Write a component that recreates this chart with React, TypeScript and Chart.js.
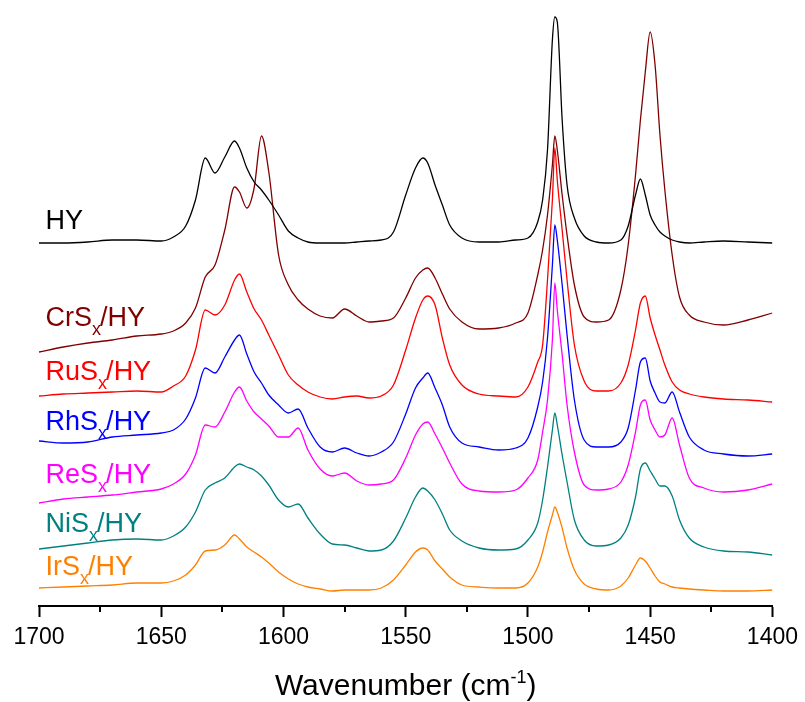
import React, { useEffect, useRef } from "react";
import { Chart, registerables } from "chart.js";

Chart.register(...registerables);

// Wavenumber grid (cm-1), shared by all spectra
const wavenumbers = [
  1700, 1690, 1680, 1670, 1660, 1650, 1645, 1640, 1636, 1632,
  1628, 1624, 1620, 1618, 1615, 1612, 1609, 1606, 1602, 1598,
  1594, 1590, 1585, 1580, 1575, 1570, 1565, 1560, 1555, 1550,
  1546, 1543, 1541, 1538, 1535, 1532, 1527, 1520, 1512, 1505,
  1500, 1496, 1494, 1492, 1490, 1489, 1488, 1486, 1484, 1481,
  1477, 1472, 1467, 1462, 1459, 1456, 1454, 1452, 1450, 1448,
  1446, 1444, 1441, 1438, 1434, 1428, 1420, 1410, 1400,
];

// Offset absorbance (a.u.) of each spectrum
const hy = [
  3.63, 3.63, 3.64, 3.66, 3.66, 3.65, 3.69, 3.80, 4.06, 4.48,
  4.33, 4.49, 4.65, 4.58, 4.38, 4.24, 4.16, 4.06, 3.91, 3.75,
  3.68, 3.64, 3.63, 3.63, 3.63, 3.64, 3.65, 3.66, 3.74, 4.11,
  4.38, 4.48, 4.43, 4.21, 4.01, 3.81, 3.68, 3.64, 3.64, 3.66,
  3.68, 3.84, 4.06, 4.56, 5.66, 5.89, 5.84, 4.86, 4.21, 3.88,
  3.70, 3.64, 3.63, 3.66, 3.80, 4.11, 4.27, 4.11, 3.91, 3.81,
  3.74, 3.70, 3.66, 3.64, 3.63, 3.64, 3.65, 3.64, 3.63,
];
const crsHy = [
  2.54, 2.59, 2.63, 2.66, 2.70, 2.72, 2.75, 2.83, 2.98, 3.29,
  3.41, 3.76, 4.19, 4.14, 3.98, 4.18, 4.70, 4.34, 3.51, 3.21,
  3.06, 2.97, 2.90, 2.88, 2.97, 2.90, 2.84, 2.85, 2.88, 3.08,
  3.28, 3.36, 3.38, 3.28, 3.12, 2.97, 2.84, 2.77, 2.78, 2.83,
  2.93, 3.31, 3.56, 3.91, 4.41, 4.70, 4.56, 4.11, 3.71, 3.21,
  2.89, 2.84, 2.86, 3.16, 3.61, 4.31, 4.86, 5.34, 5.74, 5.41,
  4.71, 4.16, 3.51, 3.09, 2.91, 2.84, 2.81, 2.86, 2.93,
];
const rusHy = [
  2.10, 2.12, 2.13, 2.14, 2.15, 2.14, 2.20, 2.30, 2.56, 2.96,
  2.91, 3.01, 3.26, 3.32, 3.14, 2.97, 2.86, 2.71, 2.51, 2.31,
  2.21, 2.14, 2.09, 2.07, 2.09, 2.10, 2.08, 2.10, 2.21, 2.56,
  2.88, 3.06, 3.10, 3.01, 2.68, 2.41, 2.21, 2.12, 2.10, 2.09,
  2.19, 2.44, 2.61, 3.26, 4.06, 4.58, 4.26, 3.76, 3.26, 2.61,
  2.25, 2.15, 2.15, 2.23, 2.41, 2.76, 3.03, 3.10, 2.88, 2.71,
  2.56, 2.41, 2.24, 2.16, 2.12, 2.09, 2.07, 2.06, 2.04,
];
const rhsHy = [
  1.65, 1.63, 1.64, 1.69, 1.71, 1.73, 1.76, 1.87, 2.08, 2.38,
  2.33, 2.49, 2.66, 2.71, 2.52, 2.34, 2.23, 2.11, 2.01, 1.93,
  1.97, 1.78, 1.59, 1.54, 1.58, 1.53, 1.50, 1.54, 1.64, 1.92,
  2.18, 2.28, 2.33, 2.18, 2.01, 1.79, 1.63, 1.59, 1.56, 1.58,
  1.68, 1.99, 2.24, 2.68, 3.41, 3.81, 3.66, 3.21, 2.71, 2.06,
  1.66, 1.59, 1.59, 1.64, 1.78, 2.16, 2.44, 2.48, 2.25, 2.13,
  2.04, 2.03, 2.14, 1.94, 1.69, 1.56, 1.52, 1.50, 1.52,
];
const resHy = [
  1.03, 1.07, 1.09, 1.11, 1.14, 1.17, 1.22, 1.32, 1.51, 1.81,
  1.79, 1.94, 2.14, 2.19, 2.05, 1.94, 1.87, 1.80, 1.69, 1.69,
  1.78, 1.56, 1.37, 1.30, 1.33, 1.25, 1.21, 1.22, 1.26, 1.48,
  1.71, 1.82, 1.84, 1.72, 1.58, 1.43, 1.22, 1.15, 1.14, 1.16,
  1.28, 1.46, 1.74, 2.06, 2.66, 3.23, 2.96, 2.51, 2.01, 1.54,
  1.21, 1.16, 1.17, 1.24, 1.41, 1.74, 2.01, 2.06, 1.86, 1.76,
  1.69, 1.71, 1.88, 1.61, 1.28, 1.18, 1.14, 1.16, 1.22,
];
const nisHy = [
  0.57, 0.60, 0.63, 0.66, 0.67, 0.66, 0.70, 0.79, 0.94, 1.16,
  1.23, 1.28, 1.39, 1.42, 1.39, 1.36, 1.30, 1.21, 1.06, 0.99,
  1.02, 0.88, 0.72, 0.62, 0.61, 0.58, 0.55, 0.56, 0.65, 0.88,
  1.09, 1.18, 1.15, 1.06, 0.92, 0.76, 0.65, 0.58, 0.56, 0.57,
  0.66, 0.83, 1.06, 1.39, 1.76, 1.93, 1.81, 1.51, 1.24, 0.86,
  0.66, 0.60, 0.61, 0.68, 0.81, 1.09, 1.37, 1.43, 1.35, 1.27,
  1.20, 1.20, 1.10, 0.86, 0.68, 0.59, 0.55, 0.54, 0.51,
];
const irsHy = [
  0.18, 0.19, 0.20, 0.21, 0.23, 0.23, 0.25, 0.31, 0.41, 0.55,
  0.56, 0.61, 0.71, 0.67, 0.59, 0.54, 0.49, 0.43, 0.34, 0.27,
  0.22, 0.19, 0.17, 0.15, 0.16, 0.16, 0.16, 0.18, 0.26, 0.41,
  0.54, 0.58, 0.56, 0.45, 0.37, 0.29, 0.21, 0.19, 0.18, 0.18,
  0.23, 0.39, 0.54, 0.74, 0.91, 0.99, 0.94, 0.78, 0.58, 0.36,
  0.22, 0.17, 0.16, 0.20, 0.28, 0.41, 0.48, 0.45, 0.38, 0.30,
  0.24, 0.22, 0.19, 0.18, 0.17, 0.16, 0.15, 0.15, 0.16,
];

// Series labels: main text, subscript, suffix
const labelMain = ["HY", "CrS", "RuS", "RhS", "ReS", "NiS", "IrS"];
const labelSub = ["", "x", "x", "x", "x", "x", "x"];
const labelSuffix = ["", "/HY", "/HY", "/HY", "/HY", "/HY", "/HY"];
// label text baselines in data units (offset absorbance), at the left edge
const labelBaseline = [3.77, 2.8, 2.26, 1.76, 1.23, 0.74, 0.31];
const labelWavenumber = 1697.3;

const seriesValues = [hy, crsHy, rusHy, rhsHy, resHy, nisHy, irsHy];
const seriesColors = ["#000000", "#800000", "#FF0000", "#0000FF", "#FF00FF", "#008080", "#FF8000"];

const FONT = "'Liberation Sans', Arial, Helvetica, sans-serif";

const overlayPlugin = {
  id: "spectraOverlay",
  afterDraw(chart: any) {
    const ctx = chart.ctx;
    const xs = chart.scales.x;
    const ys = chart.scales.y;
    const area = chart.chartArea;
    ctx.save();

    // minor ticks midway between major ticks
    const vals = xs.ticks.map((t: any) => t.value);
    ctx.strokeStyle = "#000";
    ctx.lineWidth = 2;
    for (let i = 0; i < vals.length - 1; i++) {
      const v = (vals[i] + vals[i + 1]) / 2;
      const px = Math.round(xs.getPixelForValue(v));
      ctx.beginPath();
      ctx.moveTo(px, area.bottom);
      ctx.lineTo(px, area.bottom + 6);
      ctx.stroke();
    }

    // series labels with subscript
    ctx.textBaseline = "alphabetic";
    ctx.textAlign = "left";
    for (let i = 0; i < labelMain.length; i++) {
      let x = xs.getPixelForValue(labelWavenumber);
      const y = ys.getPixelForValue(labelBaseline[i]);
      ctx.fillStyle = seriesColors[i];
      ctx.font = `27px ${FONT}`;
      ctx.fillText(labelMain[i], x, y);
      x += ctx.measureText(labelMain[i]).width;
      if (labelSub[i]) {
        ctx.font = `18px ${FONT}`;
        ctx.fillText(labelSub[i], x, y + 9);
        x += ctx.measureText(labelSub[i]).width - 1;
      }
      if (labelSuffix[i]) {
        ctx.font = `27px ${FONT}`;
        ctx.fillText(labelSuffix[i], x, y);
      }
    }

    // axis title with superscript
    const t1 = "Wavenumber (cm";
    const t2 = "-1";
    const t3 = ")";
    ctx.fillStyle = "#000";
    ctx.font = `30px ${FONT}`;
    const w1 = ctx.measureText(t1).width;
    const w3 = ctx.measureText(t3).width;
    ctx.font = `18px ${FONT}`;
    const w2 = ctx.measureText(t2).width;
    const cx = (area.left + area.right) / 2;
    let tx = cx - (w1 + w2 + w3) / 2;
    const ty = chart.height - 7;
    ctx.font = `30px ${FONT}`;
    ctx.fillText(t1, tx, ty);
    tx += w1;
    ctx.font = `18px ${FONT}`;
    ctx.fillText(t2, tx, ty - 12);
    tx += w2;
    ctx.font = `30px ${FONT}`;
    ctx.fillText(t3, tx, ty);

    ctx.restore();
  },
};

export default function App() {
  const canvasRef = useRef<HTMLCanvasElement | null>(null);

  useEffect(() => {
    const canvas = canvasRef.current;
    if (!canvas) return;
    const datasets = seriesValues.map((vals, i) => ({
      label: labelMain[i] + labelSub[i] + labelSuffix[i],
      data: wavenumbers.map((w, j) => ({ x: w, y: vals[j] })),
      borderColor: seriesColors[i],
      backgroundColor: seriesColors[i],
      borderWidth: 1.3,
      pointRadius: 0,
      fill: false,
      cubicInterpolationMode: "monotone" as const,
    }));

    const chart = new Chart(canvas, {
      type: "line",
      data: { datasets },
      options: {
        responsive: false,
        devicePixelRatio: 1,
        animation: false,
        layout: { padding: { left: 39, right: 30, top: 6, bottom: 0 } },
        plugins: {
          legend: { display: false },
          tooltip: { enabled: false },
          title: { display: false },
        },
        scales: {
          x: {
            type: "linear",
            reverse: true,
            min: 1400,
            max: 1700,
            afterFit: (scale: any) => {
              scale.height = 96;
            },
            ticks: {
              stepSize: 50,
              color: "#000",
              font: { family: FONT, size: 23 },
              padding: 7,
              maxRotation: 0,
              autoSkip: false,
              callback: (value: any) => String(value),
            },
            grid: {
              display: true,
              drawOnChartArea: false,
              drawTicks: true,
              tickLength: 11,
              tickWidth: 2,
              tickColor: "#000",
            },
            border: { display: true, color: "#000", width: 2 },
          },
          y: {
            display: false,
            min: 0,
            max: 6,
          },
        },
      },
      plugins: [overlayPlugin],
    });

    return () => {
      chart.destroy();
    };
  }, []);

  return (
    <div style={{ position: "fixed", left: 0, top: 0, width: 805, height: 702, background: "#fff" }}>
      <canvas ref={canvasRef} width={805} height={702} style={{ display: "block" }} />
    </div>
  );
}
